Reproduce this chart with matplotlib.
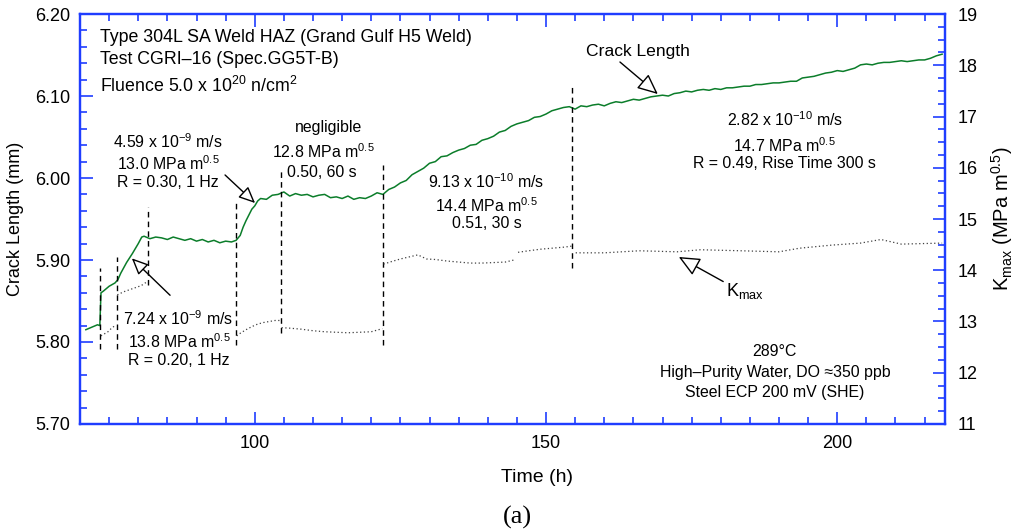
import numpy as np
import matplotlib
matplotlib.use("Agg")
import matplotlib.pyplot as plt
from matplotlib.ticker import MultipleLocator

plt.rcParams['font.family'] = ['Liberation Sans', 'DejaVu Sans']
plt.rcParams['mathtext.fontset'] = 'custom'
plt.rcParams['mathtext.rm'] = 'Liberation Sans'
plt.rcParams['mathtext.it'] = 'Liberation Sans:italic'

# crack length (mm) vs time (h)
crack_t = [71, 72, 73, 73.4, 73.6, 74, 75, 76, 76.5, 77, 78, 79, 80, 80.6, 81, 82, 83, 84, 85,
           86, 87, 88, 89, 90, 91, 92, 93, 94, 95, 96, 96.8, 97.5, 98, 98.5, 99, 99.5, 100,
           100.5, 101, 102, 103, 104, 105, 106, 107, 108, 109, 110, 111, 112, 113, 114, 115,
           116, 117, 118, 119, 120, 121, 122, 123, 124, 125, 126, 127, 128, 129, 130, 131,
           132, 133, 134, 135, 136, 137, 138, 139, 140, 141, 142, 143, 144, 145, 146, 147,
           148, 149, 150, 151, 152, 153, 154, 155, 156, 157, 158, 159, 160, 161, 162, 163,
           164, 165, 166, 167, 168, 169, 170, 171, 172, 173, 174, 175, 176, 177, 178, 179,
           180, 181, 182, 183, 184, 185, 186, 187, 188, 189, 190, 191, 192, 193, 194, 195,
           196, 197, 198, 199, 200, 201, 202, 203, 204, 205, 206, 207, 208, 209, 210, 211,
           212, 213, 214, 215, 216, 217, 218]
crack_mm = [5.815, 5.818, 5.821, 5.820, 5.860, 5.862, 5.868, 5.872, 5.876, 5.884, 5.897, 5.908,
            5.920, 5.928, 5.929, 5.926, 5.928, 5.927, 5.925, 5.928, 5.926, 5.924, 5.926, 5.923,
            5.925, 5.922, 5.924, 5.921, 5.923, 5.922, 5.924, 5.930, 5.940, 5.948, 5.955, 5.962,
            5.966, 5.972, 5.975, 5.974, 5.979, 5.980, 5.983, 5.978, 5.981, 5.979, 5.980, 5.977,
            5.979, 5.980, 5.976, 5.977, 5.975, 5.978, 5.974, 5.976, 5.975, 5.978, 5.982, 5.980,
            5.986, 5.989, 5.994, 5.997, 6.004, 6.008, 6.012, 6.018, 6.020, 6.026, 6.027, 6.031,
            6.034, 6.036, 6.040, 6.041, 6.046, 6.048, 6.051, 6.056, 6.058, 6.063, 6.066, 6.068,
            6.070, 6.074, 6.075, 6.078, 6.082, 6.084, 6.086, 6.087, 6.084, 6.088, 6.087, 6.089,
            6.090, 6.088, 6.091, 6.093, 6.092, 6.094, 6.096, 6.095, 6.097, 6.099, 6.100, 6.101,
            6.100, 6.103, 6.104, 6.106, 6.105, 6.107, 6.108, 6.107, 6.109, 6.108, 6.110, 6.110,
            6.111, 6.112, 6.112, 6.114, 6.114, 6.115, 6.116, 6.116, 6.117, 6.118, 6.118, 6.122,
            6.123, 6.124, 6.126, 6.128, 6.129, 6.131, 6.130, 6.132, 6.134, 6.138, 6.139, 6.138,
            6.140, 6.141, 6.141, 6.142, 6.143, 6.142, 6.143, 6.144, 6.144, 6.146, 6.149, 6.151]

# Kmax (MPa m^0.5), plotted in separate segments
kmax_segments = [
    ([73.6, 74.2, 74.8, 75.5, 76.2], [12.72, 12.76, 12.80, 12.88, 12.93]),
    ([76.4, 77.5, 78.5, 79.5, 80.5, 81.3], [13.52, 13.58, 13.62, 13.66, 13.70, 13.76]),
    ([96.9, 97.5, 98.5, 99.5, 100.5, 101.5, 102.5, 103.5, 104.3],
     [12.72, 12.77, 12.84, 12.90, 12.95, 12.98, 13.00, 13.02, 13.02]),
    ([104.6, 106, 108, 110, 112, 114, 116, 118, 120, 121.9],
     [12.88, 12.87, 12.85, 12.82, 12.80, 12.79, 12.78, 12.79, 12.80, 12.86]),
    ([122.1, 123.5, 125, 126.5, 128, 129.5, 131, 133, 135, 137, 139, 141, 143, 144.5],
     [14.12, 14.17, 14.22, 14.26, 14.30, 14.22, 14.21, 14.18, 14.16, 14.14, 14.14, 14.15,
      14.16, 14.20]),
    ([145.2, 147, 149, 151, 153, 154.4], [14.35, 14.38, 14.41, 14.43, 14.45, 14.47]),
    ([155.1, 160, 166, 172.5, 176.5, 183.5, 190, 193.5, 199, 204, 207.5, 211, 218],
     [14.34, 14.34, 14.38, 14.36, 14.40, 14.38, 14.36, 14.43, 14.49, 14.53, 14.60, 14.51,
      14.53]),
]

# dashed segment boundaries
vline_t = [73.5, 76.3, 81.6, 96.8, 104.5, 122.0, 154.5]
vline_lo = [5.791, 5.791, 5.870, 5.796, 5.811, 5.796, 5.890]
vline_hi = [5.890, 5.904, 5.965, 5.970, 6.010, 6.016, 6.113]

blue = '#1f3dff'
green = '#0b7d2a'

fig = plt.figure(figsize=(10.18, 5.29), dpi=100)
ax = fig.add_axes([0.0786, 0.1985, 0.8497, 0.775])
ax2 = ax.twinx()

ax.plot(crack_t, crack_mm, color=green, lw=1.1)
for kt, kv in kmax_segments:
    ax2.plot(kt, kv, color='0.25', lw=0.9, ls=(0, (1, 2)))
ax.vlines(vline_t, vline_lo, vline_hi, colors='k', linestyles=(0, (4, 3)), lw=1)

ax.set_xlim(70, 218.5)
ax.set_ylim(5.70, 6.20)
ax2.set_ylim(11, 19)

ax.xaxis.set_major_locator(MultipleLocator(50))
ax.xaxis.set_minor_locator(MultipleLocator(5))
ax.yaxis.set_major_locator(MultipleLocator(0.1))
ax.yaxis.set_minor_locator(MultipleLocator(0.02))
ax.yaxis.set_major_formatter(matplotlib.ticker.FormatStrFormatter('%.2f'))
ax2.yaxis.set_major_locator(MultipleLocator(1))
ax2.yaxis.set_minor_locator(MultipleLocator(0.25))

for a in (ax, ax2):
    for s in a.spines.values():
        s.set_color(blue)
        s.set_linewidth(1.6)
ax.tick_params(axis='x', which='both', direction='in', top=True, color=blue, width=1.2,
               labelsize=13, pad=8)
ax.tick_params(axis='x', which='major', length=9)
ax.tick_params(axis='x', which='minor', length=5)
ax.tick_params(axis='y', which='both', direction='in', color=blue, width=1.2,
               labelsize=13, pad=7)
ax.tick_params(axis='y', which='major', length=9)
ax.tick_params(axis='y', which='minor', length=5)
ax2.tick_params(axis='y', which='both', direction='in', color=blue, width=1.2,
                labelsize=13, pad=9)
ax2.tick_params(axis='y', which='major', length=9)
ax2.tick_params(axis='y', which='minor', length=5)

ax.set_xlabel('Time (h)', fontsize=14, labelpad=7)
ax.xaxis.set_label_coords(0.528, -0.11)
ax.set_ylabel('Crack Length (mm)', fontsize=13, labelpad=8)
ax2.set_ylabel(r'K$_{\mathrm{max}}$ (MPa m$^{\mathrm{0.5}}$)', fontsize=14.5, labelpad=8)
fig.text(0.508, 0.022, '(a)', fontsize=19, family='Liberation Serif', ha='center', va='center')

fs = 11.4
ax.text(73.4, 6.171, 'Type 304L SA Weld HAZ (Grand Gulf H5 Weld)', fontsize=12.8, va='center')
ax.text(73.4, 6.145, 'Test CGRI\u201316 (Spec.GG5T-B)', fontsize=12.8, va='center')
ax.text(73.4, 6.112, r'Fluence 5.0 x 10$^{\mathrm{20}}$ n/cm$^{\mathrm{2}}$', fontsize=12.8, va='center')

ax.text(85.1, 6.044, r'4.59 x 10$^{\mathrm{-9}}$ m/s', fontsize=fs, ha='center', va='center')
ax.text(85.1, 6.018, r'13.0 MPa m$^{\mathrm{0.5}}$', fontsize=fs, ha='center', va='center')
ax.text(85.1, 5.994, 'R = 0.30, 1 Hz', fontsize=fs, ha='center', va='center')

ax.text(112.6, 6.061, 'negligible', fontsize=fs, ha='center', va='center')
ax.text(111.7, 6.032, r'12.8 MPa m$^{\mathrm{0.5}}$', fontsize=fs, ha='center', va='center')
ax.text(111.5, 6.007, '0.50, 60 s', fontsize=fs, ha='center', va='center')

ax.text(139.8, 5.996, r'9.13 x 10$^{\mathrm{-10}}$ m/s', fontsize=fs, ha='center', va='center')
ax.text(139.8, 5.966, r'14.4 MPa m$^{\mathrm{0.5}}$', fontsize=fs, ha='center', va='center')
ax.text(139.8, 5.944, '0.51, 30 s', fontsize=fs, ha='center', va='center')

ax.text(191.0, 6.071, r'2.82 x 10$^{\mathrm{-10}}$ m/s', fontsize=fs, ha='center', va='center')
ax.text(191.0, 6.040, r'14.7 MPa m$^{\mathrm{0.5}}$', fontsize=fs, ha='center', va='center')
ax.text(191.0, 6.018, 'R = 0.49, Rise Time 300 s', fontsize=fs, ha='center', va='center')

ax.text(86.8, 5.829, r'7.24 x 10$^{\mathrm{-9}}$ m/s', fontsize=fs, ha='center', va='center')
ax.text(87.0, 5.800, r'13.8 MPa m$^{\mathrm{0.5}}$', fontsize=fs, ha='center', va='center')
ax.text(87.0, 5.778, 'R = 0.20, 1 Hz', fontsize=fs, ha='center', va='center')

ax.text(189.3, 5.788, '289\u00b0C', fontsize=fs, ha='center', va='center')
ax.text(189.3, 5.763, 'High\u2013Purity Water, DO \u2248350 ppb', fontsize=fs, ha='center', va='center')
ax.text(189.3, 5.739, 'Steel ECP 200 mV (SHE)', fontsize=fs, ha='center', va='center')

arrow = dict(arrowstyle='-|>,head_length=1.0,head_width=0.45', fc='white', ec='k', lw=1,
             shrinkA=0, shrinkB=0)
ax.annotate('Crack Length', xy=(169.2, 6.1024), xytext=(165.7, 6.154), fontsize=12.6,
            ha='center', va='center', arrowprops=dict(arrow, relpos=(0.3, 0.0)))
ax.annotate(r'K$_{\mathrm{max}}$', xy=(172.8, 5.9037), xytext=(180.9, 5.856), fontsize=13,
            ha='left', va='baseline', arrowprops=dict(arrow, relpos=(0.0, 0.9)))
ax.annotate('', xy=(100.05, 5.9695), xytext=(94.9, 6.0037), arrowprops=arrow)
ax.annotate('', xy=(78.9, 5.902), xytext=(85.46, 5.857), arrowprops=arrow)

fig.savefig('out.png', dpi=100)
